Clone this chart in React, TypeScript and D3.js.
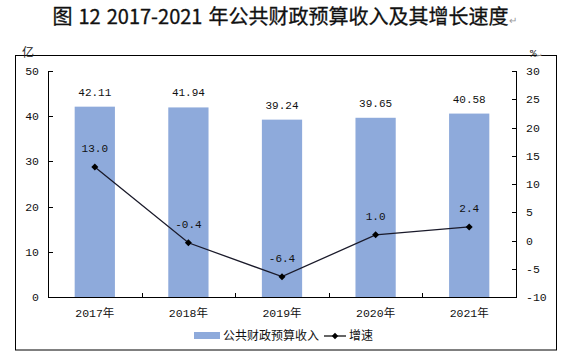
import React from "react";
import * as d3 from "d3";

const categories = ["2017年", "2018年", "2019年", "2020年", "2021年"];
const revenue = [42.11, 41.94, 39.24, 39.65, 40.58];
const growth = [13.0, -0.4, -6.4, 1.0, 2.4];
const leftTicks = [0, 10, 20, 30, 40, 50];
const rightTicks = [-10, -5, 0, 5, 10, 15, 20, 25, 30];
const titleParts = ["图", "12", "2017-2021", "年公共财政预算收入及其增长速度"];
const barName = "公共财政预算收入";
const lineName = "增速";

const W = 564;
const H = 357;
const plot = { left: 48, right: 516, top: 71, bottom: 297 };
const numFont = "'Liberation Mono', 'Noto Sans CJK SC', monospace";
const cjkFont = "'Noto Sans CJK SC', sans-serif";

export default function App() {
  const x = d3.scaleBand<string>().domain(categories).range([plot.left, plot.right]);
  const yL = d3.scaleLinear().domain([0, 50]).range([plot.bottom, plot.top]);
  const yR = d3.scaleLinear().domain([-10, 30]).range([plot.bottom, plot.top]);
  const barW = x.bandwidth() * 0.43;
  const cx = (c: string) => (x(c) as number) + x.bandwidth() / 2;
  const line = d3
    .line<number>()
    .x((_, i) => cx(categories[i]))
    .y((d) => yR(d));
  const diamond = (px: number, py: number, s: number) =>
    `M${px},${py - s}L${px + s},${py}L${px},${py + s}L${px - s},${py}Z`;
  const boundaries = categories.slice(1).map((c) => x(c) as number);

  return (
    <svg width={W} height={H} style={{ position: "absolute", left: 0, top: 0, background: "#fff" }}>
      <text x={285} y={24} textAnchor="middle" fontFamily={cjkFont} fontSize={20} fontWeight={400} fill="#111" stroke="#111" strokeWidth={0.3}>
        {titleParts.map((p, i) => (
          <tspan key={i} dx={i === 0 ? 0 : 6}>{p}</tspan>
        ))}
        <tspan fontSize={10} fill="#999" stroke="none" dx={1}>↵</tspan>
      </text>
      <rect x={15.5} y={55.5} width={541} height={294.5} fill="none" stroke="#000" strokeWidth={1} />
      <text x={28} y={57} textAnchor="middle" fontFamily={cjkFont} fontSize={12} fill="#222">亿</text>
      <text x={530} y={57} fontFamily={numFont} fontSize={11} fill="#222">%<tspan fontSize={8} fill="#999">↵</tspan></text>

      {/* bars */}
      {categories.map((c, i) => (
        <rect key={c} x={cx(c) - barW / 2} y={yL(revenue[i])} width={barW} height={plot.bottom - yL(revenue[i])} fill="#8eaadb" />
      ))}
      {categories.map((c, i) => (
        <text key={"bl" + c} x={cx(c)} y={yL(revenue[i]) - 11} textAnchor="middle" fontFamily={numFont} fontSize={11} fill="#111">
          {revenue[i].toFixed(2)}
        </text>
      ))}

      {/* axes */}
      <line x1={plot.left + 0.5} x2={plot.left + 0.5} y1={plot.top} y2={plot.bottom} stroke="#000" />
      <line x1={plot.right + 0.5} x2={plot.right + 0.5} y1={plot.top} y2={plot.bottom} stroke="#000" />
      <line x1={plot.left} x2={plot.right + 1} y1={plot.bottom + 0.5} y2={plot.bottom + 0.5} stroke="#000" />
      {leftTicks.map((t) => (
        <g key={"lt" + t}>
          <line x1={plot.left} x2={plot.left + 5} y1={Math.round(yL(t)) + 0.5} y2={Math.round(yL(t)) + 0.5} stroke="#000" />
          <text x={39} y={yL(t) + 4} textAnchor="end" fontFamily={numFont} fontSize={11.5} fill="#111">{t}</text>
        </g>
      ))}
      {rightTicks.map((t) => (
        <g key={"rt" + t}>
          <line x1={plot.right - 4} x2={plot.right + 1} y1={Math.round(yR(t)) + 0.5} y2={Math.round(yR(t)) + 0.5} stroke="#000" />
          <text x={526} y={yR(t) + 4} textAnchor="start" fontFamily={numFont} fontSize={11.5} fill="#111">{t}</text>
        </g>
      ))}
      {boundaries.map((b, i) => (
        <line key={"xt" + i} x1={Math.round(b) + 0.5} x2={Math.round(b) + 0.5} y1={plot.bottom - 4} y2={plot.bottom} stroke="#000" />
      ))}
      {categories.map((c) => (
        <text key={"xl" + c} x={cx(c)} y={317} textAnchor="middle" fontFamily={numFont} fontSize={11.5} fill="#111">{c}</text>
      ))}

      {/* growth line */}
      <path d={line(growth) || ""} fill="none" stroke="#1a1a2a" strokeWidth={1.3} />
      {growth.map((g, i) => (
        <path key={"m" + i} d={diamond(cx(categories[i]), yR(g), 3.5)} fill="#000" />
      ))}
      {growth.map((g, i) => (
        <text key={"gl" + i} x={cx(categories[i])} y={yR(g) - 15} textAnchor="middle" fontFamily={numFont} fontSize={11} fill="#111">
          {g.toFixed(1)}
        </text>
      ))}

      {/* legend */}
      <rect x={194} y={332} width={26} height={7} fill="#8eaadb" />
      <text x={223} y={340} fontFamily={cjkFont} fontSize={12} fill="#111">{barName}</text>
      <line x1={324} x2={346} y1={336} y2={336} stroke="#000" strokeWidth={1.2} />
      <path d={diamond(335, 336, 3.2)} fill="#000" />
      <text x={349} y={340} fontFamily={cjkFont} fontSize={12} fill="#111">{lineName}</text>
    </svg>
  );
}
